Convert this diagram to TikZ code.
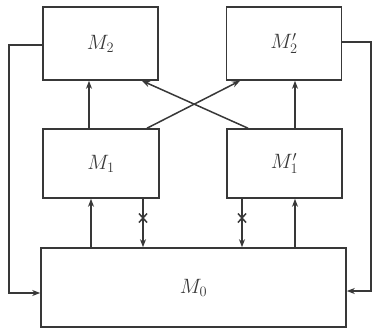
\documentclass[tikz,border=0pt]{standalone}
\usetikzlibrary{arrows.meta}
\definecolor{ink}{gray}{0.22}
\begin{document}
\begin{tikzpicture}[x=1pt,y=-1pt,
  box/.style={draw=ink, line width=1.6pt, inner sep=0pt, text=ink, font=\fontsize{20}{22}\selectfont},
  conn/.style={draw=ink, line width=1.5pt, -{Stealth[length=8pt,width=6pt]}},
  tick/.style={draw=ink, line width=1.5pt}]
\useasboundingbox (0,0) rectangle (377,332);
\node[box, minimum width=115pt, minimum height=73pt] (m2) at (100.5,43.5) {$M_2$};
\node[box, minimum width=115pt, minimum height=73pt] (m2p) at (284,43.5) {$M_2'$};
\node[box, minimum width=116pt, minimum height=69pt] (m1) at (101,163.5) {$M_1$};
\node[box, minimum width=115pt, minimum height=69pt] (m1p) at (284.5,163.5) {$M_1'$};
\node[box, minimum width=305pt, minimum height=79pt] (m0) at (193.5,287.5) {$M_0$};
% vertical arrows M1->M2
\draw[conn] (89,0 |- m1.north) -- (89,0 |- m2.south);
\draw[conn] (295,0 |- m1p.north) -- (295,0 |- m2p.south);
% cross arrows
\draw[conn] (147,0 |- m1.north) -- (240,0 |- m2p.south);
\draw[conn] (248,0 |- m1p.north) -- (142,0 |- m2.south);
% M0 -> M1
\draw[conn] (91,0 |- m0.north) -- (91,0 |- m1.south);
\draw[conn] (295,0 |- m0.north) -- (295,0 |- m1p.south);
% M1 -> M0 with cross
\draw[conn] (143,0 |- m1.south) -- (143,0 |- m0.north);
\draw[conn] (242,0 |- m1p.south) -- (242,0 |- m0.north);
\foreach \xx in {143,242}{
  \draw[tick] (\xx-4,213.5) -- (\xx+4,222.5);
  \draw[tick] (\xx-4,222.5) -- (\xx+4,213.5);
}
% feedback loops
\draw[conn] (m2.west |- 0,45) -- (9,45) -- (9,293) -- (m0.west |- 0,293);
\draw[conn] (m2p.east |- 0,42) -- (371,42) -- (371,291) -- (m0.east |- 0,291);
\end{tikzpicture}
\end{document}
